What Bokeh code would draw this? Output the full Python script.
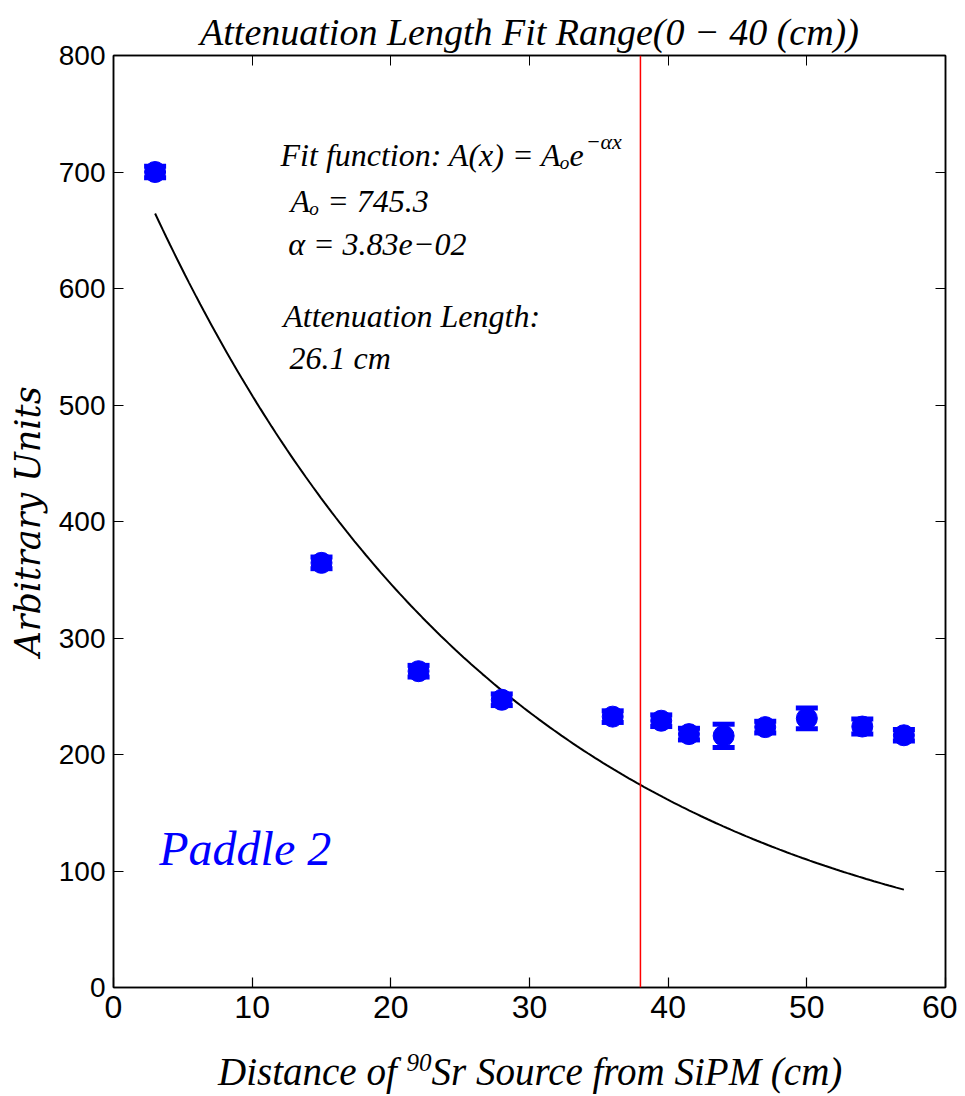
import math
import numpy as np
from bokeh.plotting import figure
from bokeh.layouts import column
from bokeh.models import (ColumnDataSource, Span, Label, Whisker, TeeHead, Div,
                          LinearAxis, FixedTicker, CustomJSTickFormatter)
from bokeh.embed import file_html
from bokeh.resources import INLINE

# ---- data ----
distance = [3, 15, 22, 28, 36, 39.5, 41.5, 44, 47, 50, 54, 57]
amplitude = [700, 364.5, 271.5, 247, 232.5, 229, 217.5, 216, 223.5, 231, 224, 216.5]
amp_err = [5, 5, 5, 5, 5, 5, 5, 10, 5, 9, 6.5, 5]

fit_A0 = 745.3
fit_alpha = 3.83e-02
fit_x_range = (3, 57)
cut_position = 38

x_ticks = [0, 10, 20, 30, 40, 50, 60]
y_ticks = [0, 100, 200, 300, 400, 500, 600, 700, 800]

title_text = "Attenuation Length Fit Range(0 \u2212 40 (cm))"
xlabel_parts = ("Distance of ", "90", "Sr Source from SiPM (cm)")
ylabel_text = "Arbitrary Units"

SERIF = "Liberation Serif"
SANS = "Liberation Sans"

p = figure(frame_width=832, frame_height=932, x_range=(0, 60), y_range=(0, 800),
           output_backend="svg", toolbar_location=None,
           min_border_left=113, min_border_right=12, min_border_top=55, min_border_bottom=46)
p.background_fill_color = "white"
p.border_fill_color = "white"
p.grid.visible = False
p.outline_line_color = "black"
p.outline_line_width = 1.5

p.title.text = title_text
p.title.text_font = SERIF
p.title.text_font_style = "italic"
p.title.text_font_size = "38px"
p.title.align = "center"
p.title.text_color = "black"
p.title.standoff = 6

for ax in (p.xaxis[0], p.yaxis[0]):
    ax.major_tick_in = 10
    ax.major_tick_out = 0
    ax.minor_tick_line_color = None
    ax.axis_line_width = 1.5
    ax.major_tick_line_width = 1.2
    ax.major_label_text_font = SANS
    ax.major_label_text_color = "black"

p.xaxis[0].ticker = FixedTicker(ticks=x_ticks)
p.yaxis[0].ticker = FixedTicker(ticks=y_ticks)
p.xaxis[0].major_label_text_font_size = "32px"
p.yaxis[0].major_label_text_font_size = "28px"
p.xaxis[0].major_label_standoff = 8
p.yaxis[0].major_label_standoff = 8

p.yaxis[0].axis_label = ylabel_text
p.yaxis[0].axis_label_text_font = "DejaVu Serif"
p.yaxis[0].axis_label_text_font_style = "italic"
p.yaxis[0].axis_label_text_font_size = "35px"
p.yaxis[0].axis_label_text_color = "black"
p.yaxis[0].axis_label_standoff = 8

empty = CustomJSTickFormatter(code="return ''")
top_ax = LinearAxis(ticker=FixedTicker(ticks=x_ticks), formatter=empty,
                    major_tick_in=10, major_tick_out=0, minor_tick_line_color=None,
                    major_label_standoff=0, axis_line_width=1.5)
right_ax = LinearAxis(ticker=FixedTicker(ticks=y_ticks), formatter=empty,
                      major_tick_in=10, major_tick_out=0, minor_tick_line_color=None,
                      major_label_standoff=0, axis_line_width=1.5)
p.add_layout(top_ax, "above")
p.add_layout(right_ax, "right")

# fit curve from the fitted parameters shown on the chart
fx = np.linspace(fit_x_range[0], fit_x_range[1], 200)
p.line(fx, fit_A0 * np.exp(-fit_alpha * fx), line_color="black", line_width=2)

p.add_layout(Span(location=cut_position, dimension="height", line_color="red", line_width=1.5))

src = ColumnDataSource(dict(
    x=distance, y=amplitude,
    upper=[a + e for a, e in zip(amplitude, amp_err)],
    lower=[a - e for a, e in zip(amplitude, amp_err)],
))
p.add_layout(Whisker(source=src, base="x", upper="upper", lower="lower",
                     line_color="blue", line_width=4,
                     upper_head=TeeHead(size=22, line_color="blue", line_width=5),
                     lower_head=TeeHead(size=22, line_color="blue", line_width=5)))
p.scatter("x", "y", source=src, size=21, fill_color="blue", line_color="blue")


def lab(text, x, y, size, align="left", color="black"):
    p.add_layout(Label(x=x, y=y, text=text, text_font=SERIF, text_font_style="italic",
                       text_font_size=size, text_align=align, text_baseline="middle",
                       text_color=color))


lab("Fit function: A(x) = A\u2092e", 34.0, 714.2, "32px", align="right")
lab("\u2212\u03b1x", 34.05, 726.6, "22px")
lab("A\u2092 = 745.3", 12.76, 675.5, "32px")
lab("\u03b1 = 3.83e\u221202", 12.6, 638.6, "32px")
lab("Attenuation Length:", 12.24, 576.8, "32px")
lab("26.1 cm", 12.7, 540, "32px")
lab("Paddle 2", 3.3, 119.3, "48px", color="blue")

xlabel = Div(
    text=('<div style="font-family:\'Liberation Serif\';font-style:italic;font-size:39px;'
          'line-height:40px;text-align:left;color:black;white-space:nowrap;padding-top:19px;">'
          + xlabel_parts[0]
          + '<sup style="font-size:25px;line-height:0;vertical-align:0.55em;">'
          + xlabel_parts[1] + '</sup>'
          + xlabel_parts[2] + '</div>'),
    width=700, height=60, margin=(0, 0, 0, 218))

layout = column(p, xlabel, spacing=0)
open("out.html", "w").write(file_html(layout, INLINE))
